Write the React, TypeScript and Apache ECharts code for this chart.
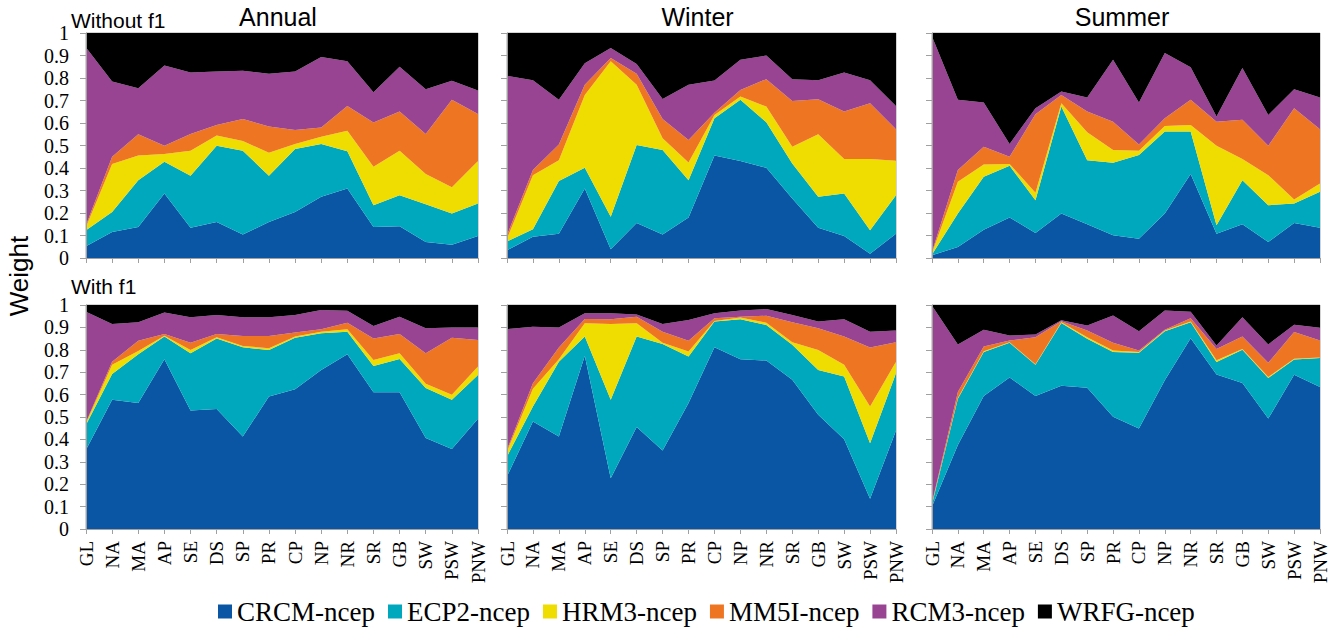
import React, { useEffect, useRef } from "react";
import * as echarts from "echarts";

const categories = ["GL", "NA", "MA", "AP", "SE", "DS", "SP", "PR", "CP", "NP", "NR", "SR", "GB", "SW", "PSW", "PNW"];
const models = ["CRCM-ncep", "ECP2-ncep", "HRM3-ncep", "MM5I-ncep", "RCM3-ncep", "WRFG-ncep"];
const modelColors = ["#0b56a4", "#00a8bd", "#efdc00", "#ee7623", "#984493", "#000000"];
const yTicks = [0, 0.1, 0.2, 0.3, 0.4, 0.5, 0.6, 0.7, 0.8, 0.9, 1];
const seasonTitles = ["Annual", "Winter", "Summer"];
const rowTitles = ["Without f1", "With f1"];

// Without f1 — Annual
const annualWo_CRCM = [0.052, 0.116, 0.138, 0.287, 0.134, 0.160, 0.104, 0.160, 0.205, 0.272, 0.309, 0.138, 0.141, 0.071, 0.059, 0.098];
const annualWo_ECP2 = [0.071, 0.089, 0.208, 0.141, 0.232, 0.339, 0.373, 0.206, 0.279, 0.235, 0.166, 0.097, 0.138, 0.168, 0.139, 0.144];
const annualWo_HRM3 = [0.015, 0.213, 0.110, 0.034, 0.111, 0.045, 0.043, 0.102, 0.023, 0.032, 0.091, 0.171, 0.198, 0.134, 0.116, 0.189];
const annualWo_MM5I = [0.008, 0.032, 0.094, 0.037, 0.074, 0.047, 0.098, 0.116, 0.062, 0.041, 0.110, 0.196, 0.174, 0.178, 0.389, 0.209];
const annualWo_RCM3 = [0.790, 0.335, 0.205, 0.357, 0.274, 0.238, 0.214, 0.235, 0.260, 0.313, 0.198, 0.135, 0.199, 0.199, 0.085, 0.104];
const annualWo_WRFG = [0.064, 0.215, 0.245, 0.144, 0.175, 0.171, 0.168, 0.181, 0.171, 0.107, 0.126, 0.263, 0.150, 0.250, 0.212, 0.256];

// Without f1 — Winter
const winterWo_CRCM = [0.034, 0.094, 0.108, 0.309, 0.039, 0.156, 0.104, 0.180, 0.456, 0.431, 0.401, 0.264, 0.134, 0.098, 0.019, 0.108];
const winterWo_ECP2 = [0.040, 0.034, 0.234, 0.092, 0.144, 0.346, 0.376, 0.166, 0.165, 0.272, 0.202, 0.156, 0.138, 0.189, 0.104, 0.171];
const winterWo_HRM3 = [0.012, 0.240, 0.093, 0.324, 0.691, 0.268, 0.052, 0.079, 0.015, 0.015, 0.070, 0.075, 0.278, 0.153, 0.317, 0.153];
const winterWo_MM5I = [0.015, 0.023, 0.070, 0.045, 0.015, 0.049, 0.086, 0.100, 0.010, 0.029, 0.122, 0.203, 0.156, 0.211, 0.248, 0.140];
const winterWo_RCM3 = [0.709, 0.399, 0.198, 0.096, 0.044, 0.043, 0.089, 0.245, 0.143, 0.134, 0.105, 0.097, 0.084, 0.174, 0.102, 0.104];
const winterWo_WRFG = [0.190, 0.210, 0.297, 0.134, 0.067, 0.138, 0.293, 0.230, 0.211, 0.119, 0.100, 0.205, 0.210, 0.175, 0.210, 0.324];

// Without f1 — Summer
const summerWo_CRCM = [0.012, 0.049, 0.126, 0.180, 0.111, 0.198, 0.150, 0.101, 0.086, 0.198, 0.373, 0.108, 0.150, 0.071, 0.156, 0.135];
const summerWo_ECP2 = [0.004, 0.149, 0.235, 0.230, 0.146, 0.475, 0.285, 0.322, 0.372, 0.364, 0.189, 0.038, 0.196, 0.164, 0.086, 0.159];
const summerWo_HRM3 = [0.006, 0.141, 0.055, 0.008, 0.033, 0.015, 0.124, 0.057, 0.019, 0.025, 0.029, 0.353, 0.094, 0.133, 0.018, 0.037];
const summerWo_MM5I = [0.005, 0.052, 0.079, 0.032, 0.349, 0.037, 0.092, 0.126, 0.028, 0.034, 0.112, 0.107, 0.174, 0.131, 0.406, 0.241];
const summerWo_RCM3 = [0.958, 0.312, 0.196, 0.057, 0.027, 0.015, 0.062, 0.275, 0.186, 0.290, 0.145, 0.023, 0.230, 0.137, 0.084, 0.141];
const summerWo_WRFG = [0.015, 0.297, 0.309, 0.493, 0.334, 0.260, 0.287, 0.119, 0.309, 0.089, 0.152, 0.371, 0.156, 0.364, 0.250, 0.287];

// With f1 — Annual
const annualW_CRCM = [0.354, 0.577, 0.562, 0.758, 0.529, 0.536, 0.413, 0.591, 0.624, 0.710, 0.780, 0.611, 0.611, 0.406, 0.357, 0.492];
const annualW_ECP2 = [0.111, 0.115, 0.218, 0.101, 0.256, 0.315, 0.398, 0.208, 0.230, 0.164, 0.101, 0.117, 0.148, 0.223, 0.220, 0.196];
const annualW_HRM3 = [0.008, 0.041, 0.015, 0.004, 0.014, 0.005, 0.006, 0.008, 0.005, 0.007, 0.011, 0.027, 0.026, 0.019, 0.022, 0.037];
const annualW_MM5I = [0.004, 0.014, 0.045, 0.007, 0.033, 0.014, 0.045, 0.055, 0.018, 0.011, 0.029, 0.096, 0.086, 0.137, 0.255, 0.119];
const annualW_RCM3 = [0.493, 0.168, 0.083, 0.096, 0.113, 0.085, 0.083, 0.083, 0.078, 0.086, 0.053, 0.055, 0.077, 0.111, 0.045, 0.055];
const annualW_WRFG = [0.030, 0.085, 0.077, 0.034, 0.055, 0.045, 0.055, 0.055, 0.045, 0.022, 0.026, 0.094, 0.052, 0.104, 0.101, 0.101];

// With f1 — Winter
const winterW_CRCM = [0.235, 0.480, 0.413, 0.773, 0.227, 0.455, 0.351, 0.562, 0.811, 0.758, 0.752, 0.666, 0.510, 0.401, 0.135, 0.440];
const winterW_ECP2 = [0.089, 0.067, 0.334, 0.086, 0.350, 0.404, 0.475, 0.208, 0.115, 0.178, 0.159, 0.156, 0.200, 0.280, 0.248, 0.255];
const winterW_HRM3 = [0.022, 0.079, 0.011, 0.059, 0.338, 0.059, 0.006, 0.022, 0.003, 0.008, 0.010, 0.012, 0.089, 0.052, 0.164, 0.052];
const winterW_MM5I = [0.008, 0.025, 0.052, 0.020, 0.021, 0.030, 0.049, 0.048, 0.012, 0.004, 0.031, 0.089, 0.097, 0.126, 0.263, 0.087];
const winterW_RCM3 = [0.538, 0.252, 0.089, 0.025, 0.027, 0.010, 0.034, 0.093, 0.022, 0.027, 0.030, 0.032, 0.030, 0.077, 0.071, 0.052];
const winterW_WRFG = [0.108, 0.097, 0.101, 0.037, 0.037, 0.042, 0.085, 0.067, 0.037, 0.025, 0.018, 0.045, 0.074, 0.064, 0.119, 0.114];

// With f1 — Summer
const summerW_CRCM = [0.101, 0.375, 0.594, 0.676, 0.594, 0.639, 0.631, 0.501, 0.449, 0.664, 0.852, 0.690, 0.652, 0.493, 0.689, 0.634];
const summerW_ECP2 = [0.010, 0.207, 0.196, 0.155, 0.139, 0.281, 0.218, 0.289, 0.338, 0.219, 0.071, 0.055, 0.148, 0.181, 0.068, 0.129];
const summerW_HRM3 = [0.003, 0.003, 0.003, 0.003, 0.002, 0.003, 0.007, 0.007, 0.003, 0.003, 0.003, 0.008, 0.004, 0.005, 0.003, 0.003];
const summerW_MM5I = [0.003, 0.027, 0.022, 0.007, 0.121, 0.005, 0.030, 0.034, 0.007, 0.004, 0.015, 0.051, 0.055, 0.063, 0.119, 0.075];
const summerW_RCM3 = [0.880, 0.212, 0.075, 0.023, 0.012, 0.004, 0.022, 0.122, 0.086, 0.085, 0.029, 0.015, 0.086, 0.082, 0.033, 0.057];
const summerW_WRFG = [0.003, 0.176, 0.110, 0.136, 0.132, 0.068, 0.092, 0.047, 0.117, 0.025, 0.030, 0.181, 0.055, 0.176, 0.088, 0.102];

const panels = [
  [annualWo_CRCM, annualWo_ECP2, annualWo_HRM3, annualWo_MM5I, annualWo_RCM3, annualWo_WRFG],
  [winterWo_CRCM, winterWo_ECP2, winterWo_HRM3, winterWo_MM5I, winterWo_RCM3, winterWo_WRFG],
  [summerWo_CRCM, summerWo_ECP2, summerWo_HRM3, summerWo_MM5I, summerWo_RCM3, summerWo_WRFG],
  [annualW_CRCM, annualW_ECP2, annualW_HRM3, annualW_MM5I, annualW_RCM3, annualW_WRFG],
  [winterW_CRCM, winterW_ECP2, winterW_HRM3, winterW_MM5I, winterW_RCM3, winterW_WRFG],
  [summerW_CRCM, summerW_ECP2, summerW_HRM3, summerW_MM5I, summerW_RCM3, summerW_WRFG],
];

const colLeft = [86, 507, 932];
const colWidth = [392, 389, 388];
const rowTop = [33, 305];
const rowHeight = [225, 224];

const SERIF = "'Liberation Serif', 'Times New Roman', serif";
const SANS = "'Liberation Sans', Arial, Helvetica, sans-serif";

export default function App() {
  const ref = useRef<HTMLDivElement>(null);

  useEffect(() => {
    if (!ref.current) return;
    const chart = echarts.init(ref.current, null, { renderer: "svg" });

    const grids: any[] = [];
    const xAxes: any[] = [];
    const yAxes: any[] = [];
    const series: any[] = [];

    panels.forEach((panel, p) => {
      const row = Math.floor(p / 3);
      const col = p % 3;
      grids.push({
        left: colLeft[col],
        top: rowTop[row],
        width: colWidth[col],
        height: rowHeight[row],
        show: true,
        borderColor: "#a8a8a8",
        borderWidth: 1,
        backgroundColor: "transparent",
      });
      xAxes.push({
        type: "category",
        gridIndex: p,
        data: categories,
        boundaryGap: false,
        axisLine: { show: true, lineStyle: { color: "#a0a0a0", width: 1 } },
        axisTick: { show: true, interval: 0, length: 5, lineStyle: { color: "#a0a0a0" } },
        axisLabel: {
          show: row === 1,
          interval: 0,
          rotate: 90,
          margin: 12,
          color: "#000",
          fontFamily: SERIF,
          fontSize: 19,
        },
        splitLine: { show: false },
        z: 10,
      });
      yAxes.push({
        type: "value",
        gridIndex: p,
        min: 0,
        max: 1,
        interval: 0.1,
        axisLine: { show: true, lineStyle: { color: "#a0a0a0", width: 1 } },
        axisTick: { show: true, length: 6, lineStyle: { color: "#a0a0a0" } },
        axisLabel: {
          show: col === 0,
          margin: 17,
          color: "#000",
          fontFamily: SERIF,
          fontSize: 20,
          formatter: (v: number) => {
            const t = yTicks.find((k) => Math.abs(k - v) < 1e-6);
            return t === undefined ? "" : String(t);
          },
        },
        splitLine: { show: false },
        z: 10,
      });
      panel.forEach((vals, m) => {
        series.push({
          name: models[m],
          type: "line",
          xAxisIndex: p,
          yAxisIndex: p,
          stack: "panel" + p,
          data: vals,
          symbol: "none",
          showSymbol: false,
          smooth: false,
          lineStyle: { width: 0 },
          areaStyle: { color: modelColors[m], opacity: 1 },
          itemStyle: { color: modelColors[m] },
          emphasis: { disabled: true },
          z: 2,
        });
      });
    });

    const graphics: any[] = [];
    seasonTitles.forEach((t, c) => {
      graphics.push({
        type: "text",
        x: colLeft[c] + colWidth[c] / 2 - 4,
        y: 17,
        style: {
          text: t,
          fontFamily: SANS,
          fontSize: 25,
          fill: "#000",
          align: "center",
          verticalAlign: "middle",
        },
      });
    });
    graphics.push({
      type: "text",
      x: 71,
      y: 20,
      style: { text: rowTitles[0], fontFamily: SANS, fontSize: 21, fill: "#000", align: "left", verticalAlign: "middle" },
    });
    graphics.push({
      type: "text",
      x: 71,
      y: 286,
      style: { text: rowTitles[1], fontFamily: SANS, fontSize: 21, fill: "#000", align: "left", verticalAlign: "middle" },
    });
    graphics.push({
      type: "text",
      x: 19,
      y: 276,
      rotation: Math.PI / 2,
      style: { text: "Weight", fontFamily: SANS, fontSize: 26, fill: "#000", align: "center", verticalAlign: "middle" },
    });

    chart.setOption({
      animation: false,
      backgroundColor: "#ffffff",
      grid: grids,
      xAxis: xAxes,
      yAxis: yAxes,
      series,
      legend: {
        data: models.map((name) => ({ name, icon: "rect" })),
        left: 218,
        top: 598,
        itemWidth: 14,
        itemHeight: 14,
        itemGap: 13,
        padding: 0,
        selectedMode: false,
        textStyle: { fontFamily: SERIF, fontSize: 27, color: "#000" },
      },
      graphic: graphics,
    });

    return () => {
      chart.dispose();
    };
  }, []);

  return (
    <div
      ref={ref}
      style={{ position: "absolute", left: 0, top: 0, width: 1341, height: 629, background: "#fff" }}
    />
  );
}
